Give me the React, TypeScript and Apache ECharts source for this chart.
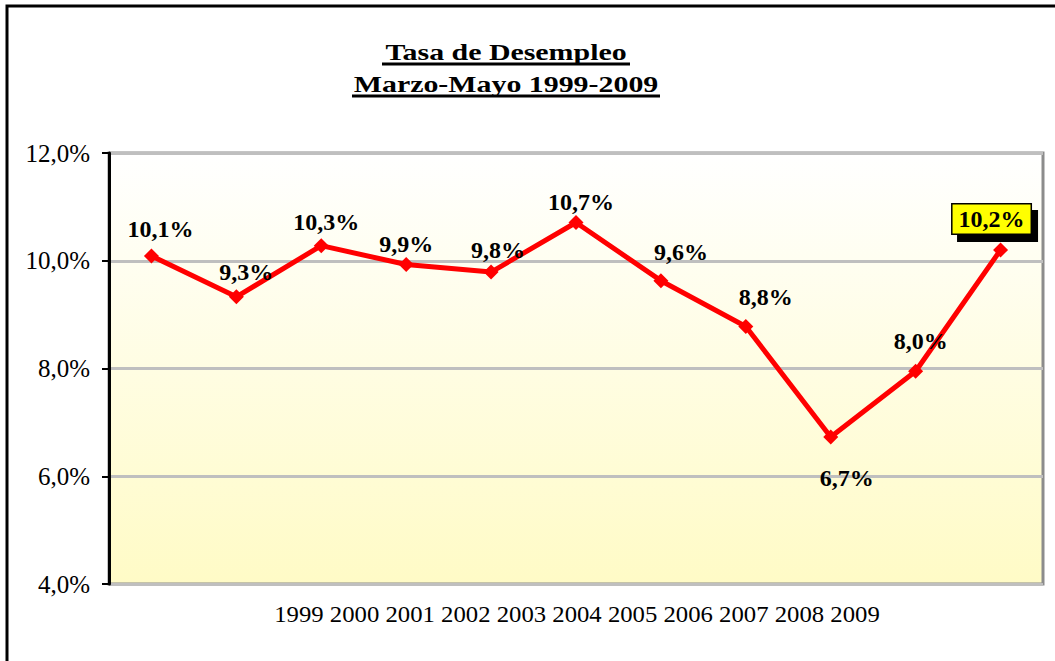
import React, { useEffect, useRef } from "react";
import * as echarts from "echarts";

const years = ["1999", "2000", "2001", "2002", "2003", "2004", "2005", "2006", "2007", "2008", "2009"];
const rates = [10.09, 9.33, 10.28, 9.93, 9.79, 10.71, 9.63, 8.78, 6.73, 7.95, 10.2];
const yTicks = { min: 4, max: 12, interval: 2 };
const titleLines = ["Tasa de Desempleo", "Marzo-Mayo 1999-2009"];
// label placement tweaks (pixels relative to each marker)
const labelOffsets = [[9, -27], [10, -25], [5, -24], [0, -21], [7, -22], [5, -20], [20, -29], [20, -29], [16, 41], [5, -30], [-9, -31]];

const fmt = (v: number) => v.toFixed(1).replace(".", ",") + "%";

export default function App() {
  const ref = useRef<HTMLDivElement>(null);
  useEffect(() => {
    if (!ref.current) return;
    const chart = echarts.init(ref.current, undefined, { renderer: "svg" });
    const serif = "'Liberation Serif', 'Times New Roman', serif";
    const last = rates.length - 1;
    chart.setOption({
      animation: false,
      backgroundColor: "#ffffff",
      grid: {
        left: 109,
        right: 12,
        top: 153,
        bottom: 77,
        show: true,
        borderColor: "#8c8c8c",
        borderWidth: 3,
        backgroundColor: new echarts.graphic.LinearGradient(0, 0, 0, 1, [
          { offset: 0, color: "#ffffff" },
          { offset: 1, color: "#fffbc6" },
        ]),
      },
      xAxis: {
        type: "category",
        data: years,
        boundaryGap: true,
        axisLine: { show: true, lineStyle: { color: "#000", width: 3, shadowColor: "#9a9a9a", shadowOffsetY: 2, shadowBlur: 0 } },
        axisTick: { show: false },
        axisLabel: { show: false },
        splitLine: { show: false },
      },
      yAxis: {
        type: "value",
        min: yTicks.min,
        max: yTicks.max,
        interval: yTicks.interval,
        axisLine: { show: true, lineStyle: { color: "#000", width: 3 } },
        axisTick: { show: true, inside: false, length: 7, lineStyle: { color: "#000", width: 2 } },
        axisLabel: {
          formatter: (v: number) => fmt(v),
          fontFamily: serif,
          fontSize: 25,
          color: "#000",
          margin: 19,
        },
        splitLine: { show: true, lineStyle: { color: "#bfbfbf", width: 3 } },
      },
      series: [
        {
          type: "line",
          data: rates.map((v, i) => {
            const item: any = { value: v, label: { offset: labelOffsets[i] } };
            if (i === last) {
              item.label = {
                offset: labelOffsets[i],
                backgroundColor: "#ffff00",
                borderColor: "#000",
                borderWidth: 1.5,
                padding: [3, 6, 2, 6],
                shadowColor: "#000",
                shadowOffsetX: 6,
                shadowOffsetY: 7,
                shadowBlur: 0,
              };
            }
            return item;
          }),
          symbol: "diamond",
          symbolSize: 15,
          lineStyle: { color: "#ff0000", width: 5 },
          itemStyle: { color: "#ff0000" },
          label: {
            show: true,
            position: "inside",
            formatter: (p: any) => fmt(p.value),
            fontFamily: serif,
            fontWeight: "bold",
            fontSize: 24,
            color: "#000",
          },
          z: 3,
        },
      ],
      graphic: [
        {
          type: "rect",
          shape: { x: 7, y: 6, width: 1080, height: 700 },
          style: { fill: "none", stroke: "#000", lineWidth: 3 },
          silent: true,
        },
        {
          type: "text",
          x: 506,
          y: 52,
          scaleX: 1.3,
          style: { text: titleLines[0], font: `bold 23px ${serif}`, fill: "#000", align: "center", verticalAlign: "middle" },
        },
        {
          type: "line",
          shape: { x1: 382, y1: 64, x2: 630, y2: 64 },
          style: { stroke: "#000", lineWidth: 3 },
        },
        {
          type: "text",
          x: 506,
          y: 84,
          scaleX: 1.3,
          style: { text: titleLines[1], font: `bold 23px ${serif}`, fill: "#000", align: "center", verticalAlign: "middle" },
        },
        {
          type: "line",
          shape: { x1: 352, y1: 96, x2: 660, y2: 96 },
          style: { stroke: "#000", lineWidth: 3 },
        },
        {
          type: "text",
          x: 577,
          y: 614,
          scaleX: 1.03,
          style: { text: years.join(" "), font: `24px ${serif}`, fill: "#000", align: "center", verticalAlign: "middle" },
        },
      ],
    });
    return () => chart.dispose();
  }, []);
  return <div ref={ref} style={{ position: "fixed", left: 0, top: 0, width: 1055, height: 661 }} />;
}
